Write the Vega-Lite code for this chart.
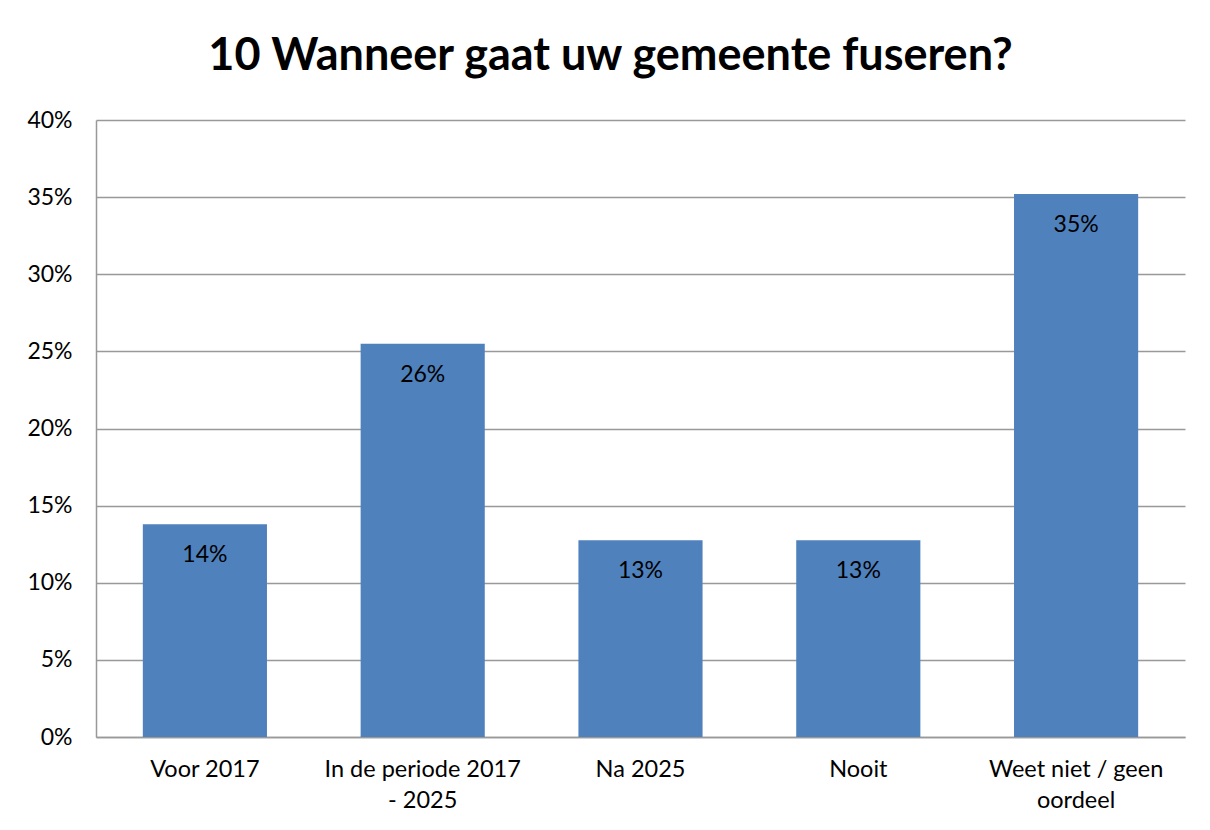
{
  "$schema": "https://vega.github.io/schema/vega-lite/v6.json",
  "width": 1089,
  "height": 617,
  "autosize": {"type": "none"},
  "padding": {"left": 96, "top": 120, "right": 25, "bottom": 93},
  "background": "white",
  "title": {
    "text": "10 Wanneer gaat uw gemeente fuseren?",
    "font": "Lato",
    "fontSize": 45,
    "fontWeight": "bold",
    "color": "#000000",
    "anchor": "middle",
    "offset": 30,
    "dx": -30
  },
  "data": {
    "values": [
      {"categorie": "Voor 2017", "waarde": 0.138, "label": "14%"},
      {"categorie": "In de periode 2017 - 2025", "waarde": 0.255, "label": "26%"},
      {"categorie": "Na 2025", "waarde": 0.1275, "label": "13%"},
      {"categorie": "Nooit", "waarde": 0.1275, "label": "13%"},
      {"categorie": "Weet niet / geen oordeel", "waarde": 0.352, "label": "35%"}
    ]
  },
  "encoding": {
    "x": {
      "field": "categorie",
      "type": "nominal",
      "sort": null,
      "scale": {"paddingInner": 0.43, "paddingOuter": 0.215},
      "axis": {
        "title": null,
        "labelAngle": 0,
        "labelFont": "Lato",
        "labelFontSize": 23.5,
        "labelColor": "#000000",
        "labelPadding": 20,
        "labelLineHeight": 31,
        "labelLimit": 300,
        "ticks": false,
        "domainColor": "#999999",
        "domainWidth": 1.5,
        "labelExpr": "datum.value == 'In de periode 2017 - 2025' ? ['In de periode 2017', '- 2025'] : (datum.value == 'Weet niet / geen oordeel' ? ['Weet niet / geen', 'oordeel'] : datum.value)"
      }
    },
    "y": {
      "field": "waarde",
      "type": "quantitative",
      "scale": {"domain": [0, 0.4], "nice": false},
      "axis": {
        "title": null,
        "values": [0, 0.05, 0.1, 0.15, 0.2, 0.25, 0.3, 0.35, 0.4],
        "format": ".0%",
        "labelFont": "Lato",
        "labelFontSize": 23,
        "labelColor": "#000000",
        "labelPadding": 24,
        "ticks": false,
        "domainColor": "#999999",
        "domainWidth": 1.5,
        "grid": true,
        "gridColor": "#999999",
        "gridWidth": 1.5
      }
    }
  },
  "layer": [
    {"mark": {"type": "bar", "color": "#4F81BD"}},
    {
      "mark": {"type": "text", "font": "Lato", "fontSize": 23, "color": "#000000", "baseline": "middle", "dy": 31},
      "encoding": {"text": {"field": "label"}}
    }
  ],
  "config": {"view": {"stroke": null}}
}
